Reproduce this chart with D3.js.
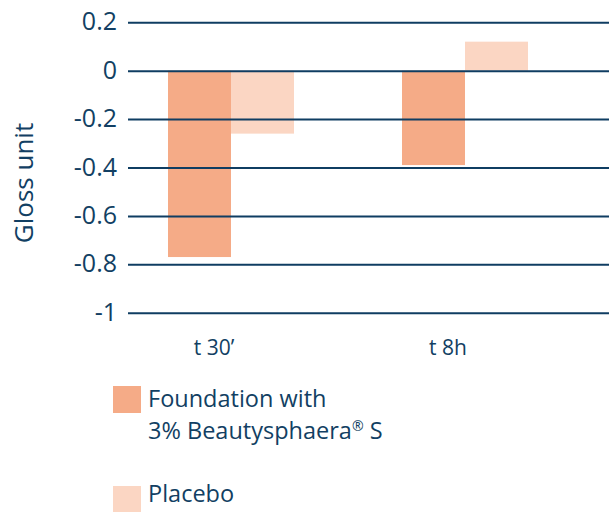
<!DOCTYPE html>
<html>
<head>
<meta charset="utf-8">
<script src="https://cdn.jsdelivr.net/npm/d3@7"></script>
<style>
  body { margin: 0; background: #fff; }
  svg text { font-family: "Open Sans", sans-serif; fill: #123f63; }
</style>
</head>
<body>
<div id="chart"></div>
<script>
// dados
const categories = ["t 30\u2019", "t 8h"];
const series = ["Foundation", "Placebo"];
const foundationValues = [-0.77, -0.39];
const placeboValues = [-0.26, 0.12];
const tickValues = [0.2, 0, -0.2, -0.4, -0.6, -0.8, -1];
const tickLabels = ["0.2", "0", "-0.2", "-0.4", "-0.6", "-0.8", "-1"];

const width = 614, height = 512;
const colors = { Foundation: "#f5ab87", Placebo: "#fbd6c3" };
const lineColor = "#0f3d62";

const svg = d3.select("#chart").append("svg")
    .attr("width", width)
    .attr("height", height);

const y = d3.scaleLinear().domain([-1, 0.2]).range([312.7, 22.3]);

const x = d3.scaleBand()
    .domain(categories)
    .range([114, 582])
    .paddingInner(108 / 234)
    .paddingOuter(54 / 234);

const xSub = d3.scaleBand()
    .domain(series)
    .range([0, x.bandwidth()]);

const rows = categories.map((c, i) => ({
    category: c,
    values: [
        { key: "Foundation", value: foundationValues[i] },
        { key: "Placebo", value: placeboValues[i] }
    ]
}));

// barras
svg.append("g").selectAll("g")
    .data(rows)
    .enter().append("g")
    .attr("transform", d => `translate(${x(d.category)},0)`)
    .selectAll("rect")
    .data(d => d.values)
    .enter().append("rect")
    .attr("x", d => xSub(d.key))
    .attr("width", xSub.bandwidth())
    .attr("y", d => y(Math.max(0, d.value)))
    .attr("height", d => Math.abs(y(d.value) - y(0)))
    .attr("fill", d => colors[d.key]);

// linhas de grade + rótulos
const yAxis = d3.axisLeft(y)
    .tickValues(tickValues)
    .tickFormat((d, i) => tickLabels[i])
    .tickSize(-(609 - 128))
    .tickPadding(11);

const gy = svg.append("g")
    .attr("transform", "translate(128,0)")
    .call(yAxis);
gy.select(".domain").remove();
gy.selectAll(".tick line")
    .attr("stroke", lineColor)
    .attr("stroke-width", 2);
gy.selectAll(".tick text")
    .attr("font-size", 25)
    .attr("dy", "0.3em")
    .style("fill", "#123f63");

// categorias
svg.append("g").selectAll("text")
    .data(categories)
    .enter().append("text")
    .attr("x", d => x(d) + x.bandwidth() / 2 - 17)
    .attr("y", 355)
    .attr("text-anchor", "middle")
    .attr("font-size", 21)
    .text(d => d);

// título do eixo
svg.append("text")
    .attr("transform", "translate(33,183) rotate(-90)")
    .attr("text-anchor", "middle")
    .attr("font-size", 26)
    .text("Gloss unit");

// legenda
const legend = svg.append("g");
legend.append("rect")
    .attr("x", 113).attr("y", 386).attr("width", 28).attr("height", 27)
    .attr("fill", colors.Foundation);
legend.append("rect")
    .attr("x", 113).attr("y", 486).attr("width", 28).attr("height", 26)
    .attr("fill", colors.Placebo);

legend.append("text")
    .attr("x", 148).attr("y", 407)
    .attr("font-size", 23.5)
    .text("Foundation with");
const l2 = legend.append("text")
    .attr("x", 148).attr("y", 439)
    .attr("font-size", 23.5);
l2.append("tspan").text("3% Beautysphaera");
l2.append("tspan").attr("font-size", 14).attr("dy", -8).text("\u00AE");
l2.append("tspan").attr("dy", 8).text(" S");
legend.append("text")
    .attr("x", 148).attr("y", 502)
    .attr("font-size", 23.5)
    .text("Placebo");
</script>
</body>
</html>
